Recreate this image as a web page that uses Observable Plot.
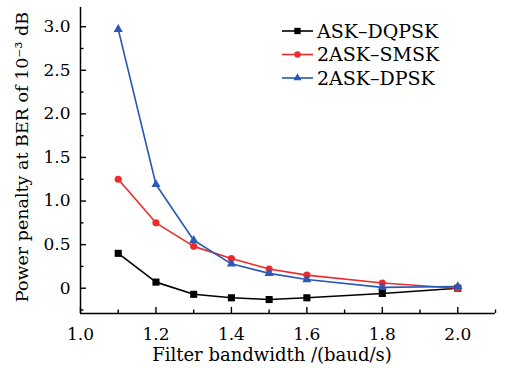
<!DOCTYPE html>
<html>
<head>
<meta charset="utf-8">
<script src="https://cdn.jsdelivr.net/npm/d3@7"></script>
<script src="https://cdn.jsdelivr.net/npm/@observablehq/plot@0.6"></script>
<style>
  body { margin: 0; background: #ffffff; }
  #chart { position: relative; width: 506px; height: 368px; font-family: "DejaVu Serif", serif; }
  #legend { position: absolute; left: 0; top: 0; }
</style>
</head>
<body>
<div id="chart"></div>
<script>
const bandwidth = [1.1, 1.2, 1.3, 1.4, 1.5, 1.6, 1.8, 2.0];
const askDqpsk = [0.40, 0.07, -0.07, -0.11, -0.13, -0.11, -0.06, 0.00];
const askSmsk  = [1.25, 0.75, 0.48, 0.34, 0.22, 0.15, 0.06, 0.00];
const askDpsk  = [2.97, 1.19, 0.55, 0.28, 0.17, 0.10, 0.01, 0.02];
const seriesNames = ["ASK\u2013DQPSK", "2ASK\u2013SMSK", "2ASK\u2013DPSK"];
const seriesValues = [askDqpsk, askSmsk, askDpsk];
const colors = ["#000000", "#ee2b2b", "#2a58b6"];
const symbols = ["square", "circle", "triangle"];
const symbolR = [4, 3.6, 3.4];
const xMajor = [1.0, 1.2, 1.4, 1.6, 1.8, 2.0];
const xMinor = [1.1, 1.3, 1.5, 1.7, 1.9, 2.1];
const yMajor = [0, 0.5, 1.0, 1.5, 2.0, 2.5, 3.0];
const yMinor = [-0.25, 0.25, 0.75, 1.25, 1.75, 2.25, 2.75];
const xDomain = [1.0, 2.1];
const yDomain = [-0.29, 3.22];

const W = 506, H = 368, mL = 80, mR = 11, mT = 7, mB = 55;
const frameW = W - mL - mR, frameH = H - mT - mB;

const data = [];
seriesNames.forEach((name, s) => {
  bandwidth.forEach((b, i) => data.push({series: name, x: b, y: seriesValues[s][i]}));
});

const color = {domain: seriesNames, range: colors};
const plot = Plot.plot({
  width: W,
  height: H,
  marginLeft: mL,
  marginRight: mR,
  marginTop: mT,
  marginBottom: mB,
  style: {fontFamily: "DejaVu Serif, serif", fontSize: "17px", background: "transparent", color: "#000"},
  x: {domain: xDomain},
  y: {domain: yDomain},
  color,
  symbol: {domain: seriesNames, range: symbols},
  marks: [
    Plot.axisX({ticks: xMajor, tickSize: 0, tickPadding: 14, tickFormat: d => d.toFixed(1), fontSize: 17, label: null}),
    Plot.axisY({ticks: yMajor, tickSize: 0, tickPadding: 10, tickFormat: d => d === 0 ? "0" : d.toFixed(1), fontSize: 17, label: null}),
    Plot.ruleX(xMajor, {insetTop: frameH - 6, stroke: "#000", strokeWidth: 1.4}),
    Plot.ruleX(xMinor, {insetTop: frameH - 3.5, stroke: "#000", strokeWidth: 1.4}),
    Plot.ruleY(yMajor, {insetRight: frameW - 6, stroke: "#000", strokeWidth: 1.4}),
    Plot.ruleY(yMinor, {insetRight: frameW - 3.5, stroke: "#000", strokeWidth: 1.4}),
    Plot.ruleY([yDomain[0]], {stroke: "#000", strokeWidth: 1.5}),
    Plot.ruleX([xDomain[0]], {stroke: "#000", strokeWidth: 1.5}),
    Plot.line(data, {x: "x", y: "y", z: "series", stroke: "series", strokeWidth: 1.6}),
    ...seriesNames.map((name, s) => Plot.dot(data.filter(d => d.series === name),
      {x: "x", y: "y", symbol: "series", fill: "series", stroke: "none", r: symbolR[s]}))
  ]
});
document.getElementById("chart").appendChild(plot);

// axis titles and legend overlay
const leg = d3.select("#chart").append("svg").attr("id", "legend").attr("width", W).attr("height", H);
leg.append("text")
  .attr("transform", "translate(22,157) rotate(-90)")
  .attr("text-anchor", "middle").attr("dy", "0.36em")
  .attr("font-size", 17.5).attr("font-family", "DejaVu Serif, serif")
  .text("Power penalty at BER of 10\u207B\u00B3 dB");
leg.append("text")
  .attr("x", 272).attr("y", 355)
  .attr("text-anchor", "middle").attr("dy", "0.36em")
  .attr("font-size", 18).attr("font-family", "DejaVu Serif, serif")
  .text("Filter bandwidth /(baud/s)");
const rows = leg.selectAll("g").data(seriesNames).join("g")
  .attr("transform", (d, i) => `translate(282, ${31 + i * 23.5})`);
rows.append("line").attr("x1", 0).attr("x2", 31).attr("stroke", (d, i) => colors[i]).attr("stroke-width", 1.6);
rows.append("path").attr("transform", "translate(15.5,0)")
  .attr("d", (d, i) => d3.symbol(d3[["symbolSquare", "symbolCircle", "symbolTriangle"][i]], Math.PI * symbolR[i] * symbolR[i] * 0.8)())
  .attr("fill", (d, i) => colors[i]);
rows.append("text").attr("x", 35).attr("dy", "0.36em").attr("font-size", 19).attr("font-family", "DejaVu Serif, serif").text(d => d);
</script>
</body>
</html>
